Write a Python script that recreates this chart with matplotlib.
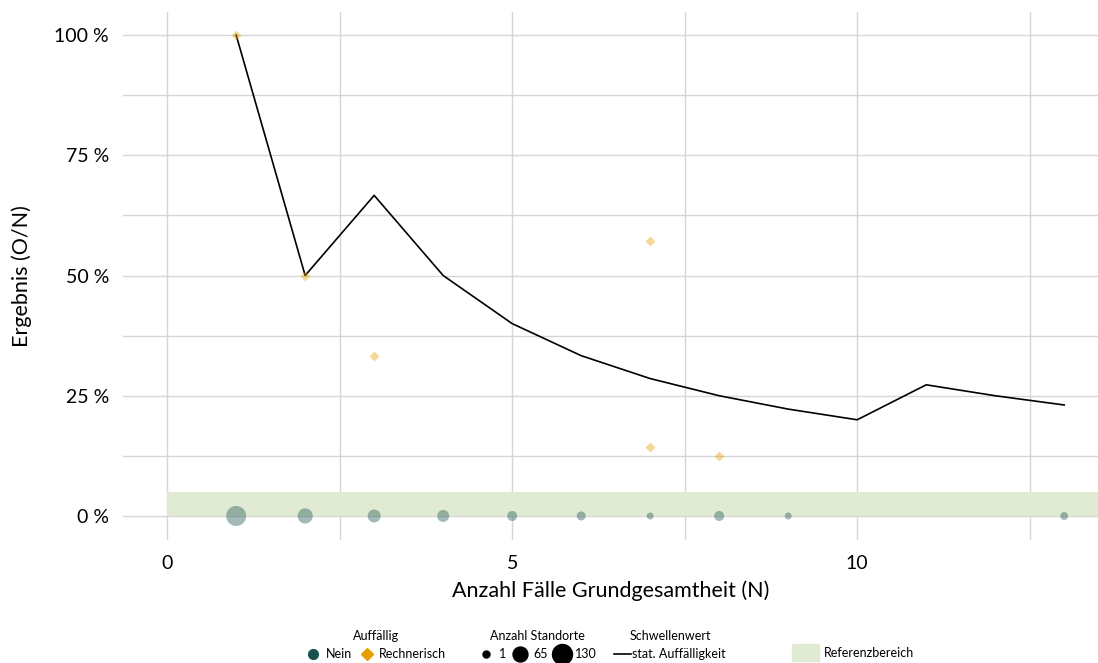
import numpy as np
import matplotlib
matplotlib.use("Agg")
import matplotlib.pyplot as plt
from matplotlib.lines import Line2D
from matplotlib.patches import Patch

plt.rcParams['font.family'] = ['Lato', 'DejaVu Sans']

# threshold line (stat. Auffaelligkeit)
n_line = [1, 2, 3, 4, 5, 6, 7, 8, 9, 10, 11, 12, 13]
thr_line = [1.0, 0.5, 2/3, 0.5, 0.4, 1/3, 2/7, 0.25, 2/9, 0.2, 3/11, 0.25, 3/13]

# sites flagged "Rechnerisch"
n_rech = [1, 2, 3, 7, 7, 8]
res_rech = [1.0, 0.5, 1/3, 4/7, 1/7, 0.125]

# sites not flagged ("Nein"), all at 0 %, sized by number of sites
n_nein = [1, 2, 3, 4, 5, 6, 7, 8, 9, 13]
res_nein = [0, 0, 0, 0, 0, 0, 0, 0, 0, 0]
cnt_nein = [130, 68, 45, 36, 20, 13, 1, 20, 1, 6]

ref_low, ref_high = 0.0, 0.05

teal = '#17524e'
orange = '#e69f00'
band = '#e1ebd3'


def size_of(c):
    # ggplot-like area scaling: diameter in px, then to points^2
    d = np.sqrt(46.3 + 2.72 * np.asarray(c, dtype=float))
    return (d * 0.72) ** 2


fig = plt.figure(figsize=(10.98, 6.63), dpi=100)
ax = fig.add_axes([123/1098, 123/663, 975/1098, 528/663])

ax.axhspan(ref_low, ref_high, xmin=(0 + 0.64) / 14.13, xmax=1, color=band, zorder=1, lw=0)
ax.plot(n_line, thr_line, color='black', lw=1.2, zorder=4)
ax.scatter(n_nein, res_nein, s=size_of(cnt_nein), color=teal, alpha=0.4, lw=0, zorder=3)
ax.scatter(n_rech, res_rech, s=26, marker='D', color=orange, alpha=0.4, lw=0, zorder=5)

ax.set_xlim(-0.64, 13.49)
ax.set_ylim(-0.05, 1.048)
ax.set_xticks([0, 5, 10])
ax.set_xticks([2.5, 7.5, 12.5], minor=True)
ax.set_yticks([0, 0.25, 0.5, 0.75, 1.0])
ax.set_yticklabels(['0 %', '25 %', '50 %', '75 %', '100 %'])
ax.set_yticks([0.125, 0.375, 0.625, 0.875], minor=True)
ax.grid(True, which='both', color='#d6d6d6', lw=1.0, zorder=0)
ax.set_axisbelow(True)
for s in ax.spines.values():
    s.set_visible(False)
ax.tick_params(which='both', length=0, labelsize=14, colors='black')
ax.tick_params(axis='x', pad=11)
ax.tick_params(axis='y', pad=10)
ax.set_xlabel('Anzahl Fälle Grundgesamtheit (N)', fontsize=15.5, labelpad=6)
ax.set_ylabel('Ergebnis (O/N)', fontsize=15.5, labelpad=16)

# legends
base = dict(frameon=False, fontsize=9, title_fontsize=9, loc='lower center',
            borderaxespad=0, borderpad=0.2)

h1 = [Line2D([], [], marker='o', ls='', color=teal, ms=7),
      Line2D([], [], marker='D', ls='', color=orange, ms=6)]
fig.legend(h1, ['Nein', 'Rechnerisch'], title='Auffällig', ncol=2,
           handlelength=1.2, handletextpad=0.4, columnspacing=0.6,
           bbox_to_anchor=(376/1098, 0.0), **base)

h2 = [Line2D([], [], marker='o', ls='', color='black', ms=np.sqrt(size_of([c]))[0])
      for c in [1, 65, 130]]
fig.legend(h2, ['1', '65', '130'], title='Anzahl Standorte', ncol=3,
           handlelength=1.4, handletextpad=0.35, columnspacing=0.4,
           bbox_to_anchor=(537/1098, 0.0), **base)

h3 = [Line2D([], [], color='black', lw=1.2)]
fig.legend(h3, ['stat. Auffälligkeit'], title='Schwellenwert', ncol=1,
           handlelength=1.3, handletextpad=0.1,
           bbox_to_anchor=(670/1098, 0.0), **base)

h4 = [Patch(color=band)]
fig.legend(h4, ['Referenzbereich'], title=' ', ncol=1, handlelength=2.2,
           handleheight=1.6, handletextpad=0.4,
           bbox_to_anchor=(853/1098, 0.0), **base)

fig.savefig('out.png', dpi=100)
